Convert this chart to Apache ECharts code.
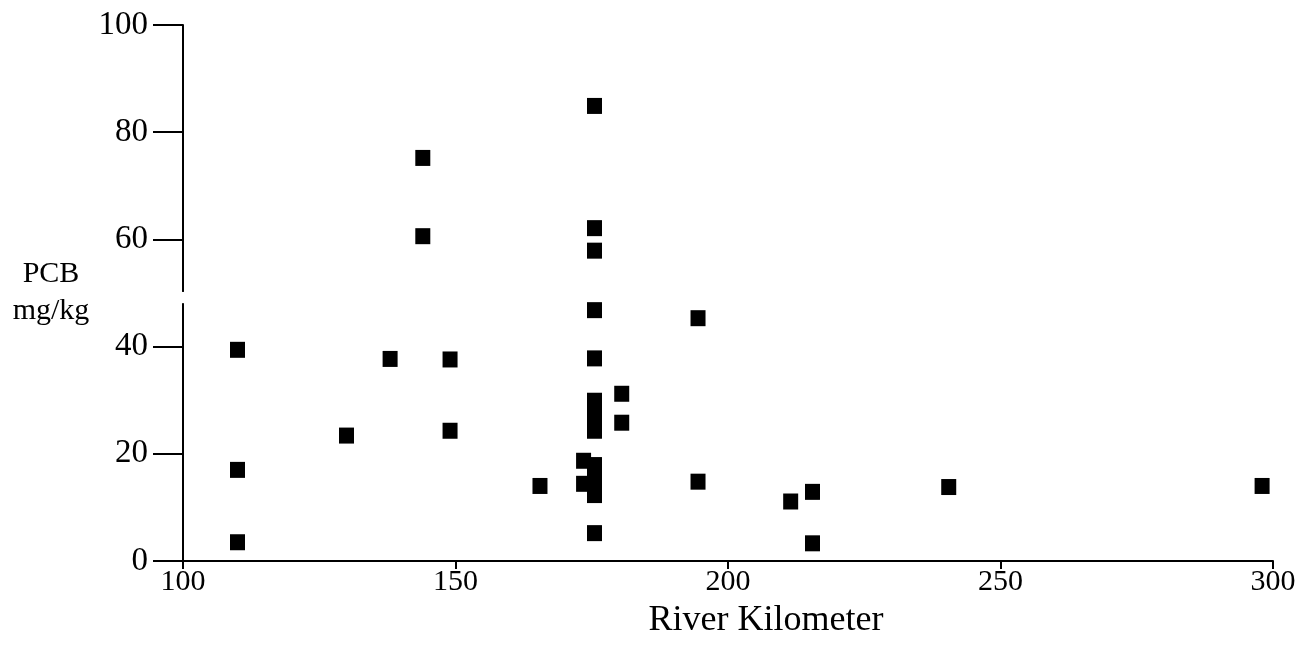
<!DOCTYPE html>
<html>
<head>
<meta charset="utf-8">
<script src="https://cdn.jsdelivr.net/npm/echarts@6/dist/echarts.min.js"></script>
<style>
html,body{margin:0;padding:0;background:#fff;}
#chart{width:1311px;height:647px;}
</style>
</head>
<body>
<div id="chart"></div>
<script>
// River kilometer of each sample
const riverKm = [110, 110, 110, 130, 138, 144, 144, 149, 149, 165.5,
  173.5, 173.5,
  175.5, 175.5, 175.5, 175.5, 175.5, 175.5, 175.5, 175.5, 175.5, 175.5, 175.5, 175.5, 175.5,
  180.5, 180.5, 194.5, 194.5, 211.5, 215.5, 215.5, 240.5, 298];
// PCB concentration (mg/kg)
const pcb = [39.4, 17.0, 3.5, 23.4, 37.7, 75.2, 60.6, 37.6, 24.3, 14.0,
  18.7, 14.4,
  84.9, 62.1, 57.9, 46.8, 37.8, 29.9, 28.0, 26.1, 24.3, 17.9, 15.1, 12.3, 5.2,
  31.2, 25.8, 45.3, 14.8, 11.1, 12.9, 3.3, 13.8, 14.0];
const xTicks = [100, 150, 200, 250, 300];
const yTicks = [0, 20, 40, 60, 80, 100];
const axisBreak = [48.1, 50.2];

const points = riverKm.map((x, i) => [x, pcb[i]]);
const FONT = 'Liberation Serif';

const chart = echarts.init(document.getElementById('chart'), null, {renderer: 'canvas'});
chart.setOption({
  animation: false,
  backgroundColor: '#fff',
  grid: {left: 183, right: 38, top: 25, bottom: 86, containLabel: false, outerBoundsMode: 'none'},
  xAxis: {
    type: 'value',
    min: xTicks[0], max: xTicks[xTicks.length - 1], interval: 50,
    name: 'River Kilometer',
    nameLocation: 'middle',
    nameGap: 42,
    nameTextStyle: {fontFamily: FONT, fontSize: 36, color: '#000', padding: [0, 0, 0, 76]},
    axisLine: {show: true, onZero: false, lineStyle: {color: '#000', width: 2}},
    axisTick: {show: true, inside: false, length: 8, lineStyle: {color: '#000', width: 2}},
    axisLabel: {fontFamily: FONT, fontSize: 30, color: '#000', margin: 6},
    splitLine: {show: false}
  },
  yAxis: {
    type: 'value',
    min: yTicks[0], max: yTicks[yTicks.length - 1], interval: 20,
    name: 'PCB\nmg/kg',
    nameLocation: 'middle',
    nameRotate: 0,
    nameGap: 132,
    nameTextStyle: {fontFamily: FONT, fontSize: 30, color: '#000', align: 'center', verticalAlign: 'middle', lineHeight: 37, padding: [0, 0, 8, 0]},
    axisLine: {show: true, lineStyle: {color: '#000', width: 2}},
    axisTick: {show: true, inside: false, length: 30, lineStyle: {color: '#000', width: 2}},
    axisLabel: {fontFamily: FONT, fontSize: 33, color: '#000', margin: 35},
    splitLine: {show: false}
  },
  series: [{
    type: 'scatter',
    data: points,
    symbol: 'rect',
    symbolSize: [15, 16],
    itemStyle: {color: '#000', opacity: 1, borderWidth: 0}
  }]
});

// small gap in the y axis line (scale break mark in the original)
const pTop = chart.convertToPixel({gridIndex: 0}, [xTicks[0], axisBreak[1]]);
const pBot = chart.convertToPixel({gridIndex: 0}, [xTicks[0], axisBreak[0]]);
chart.setOption({
  graphic: [{
    type: 'rect',
    shape: {x: pTop[0] - 3, y: pTop[1], width: 6, height: pBot[1] - pTop[1]},
    style: {fill: '#fff'},
    z: 100
  }]
});
</script>
</body>
</html>
